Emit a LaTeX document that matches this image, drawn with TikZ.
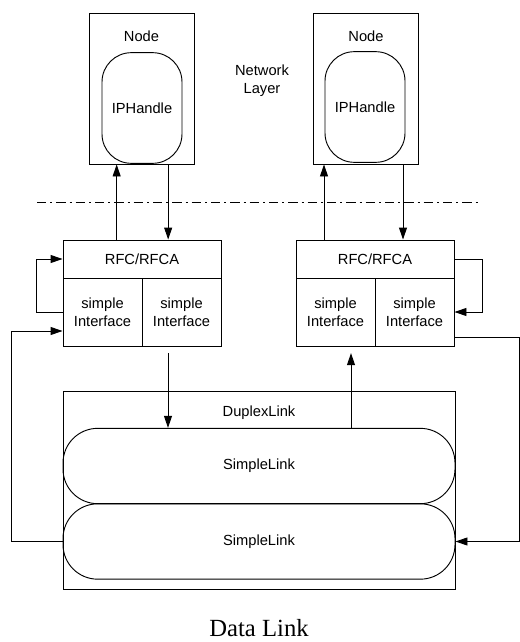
\documentclass[tikz,border=0pt]{standalone}
\usepackage{fontspec}
\setmainfont{Liberation Sans}
\newfontfamily\capfont{Liberation Serif}
\usetikzlibrary{calc}
\usetikzlibrary{arrows.meta}

\tikzset{
  every node/.style={font=\fontsize{11}{13.5}\selectfont},
  hostbox/.style={draw, minimum width=78.75pt, minimum height=113.25pt},
  handle/.style={draw, rounded corners=22pt, minimum width=60pt, minimum height=83pt, inner sep=0pt},
  rfcbox/.style={draw, minimum width=118.5pt, minimum height=28.5pt, inner sep=0pt},
  ifbox/.style={draw, minimum width=59.25pt, minimum height=51pt, inner sep=0pt, align=center},
  linkbox/.style={draw, rounded corners=26pt, minimum width=294pt, minimum height=56.5pt, inner sep=0pt},
  flow/.style={line width=.7pt, -{Triangle[length=9pt,width=6pt]}}
}

\begin{document}
\begin{tikzpicture}[x=.75pt, y=-.75pt, line width=.7pt]
\useasboundingbox (0,0) rectangle (520,642);

% network layer
\node[hostbox] (hostL) at (141.5,88.5) {};
\node[hostbox] (hostR) at (366,88.5) {};
\node (hostLlbl) at (141.5,36) {Node};
\node (hostRlbl) at (366,36) {Node};
\node[handle] (ipL) at (142,108) {IPHandle};
\node[handle] (ipR) at (365,107) {IPHandle};
\node[align=center] (netlbl) at (262,81) {Network\\Layer};

\draw[dash pattern=on 7pt off 3pt on 1.5pt off 3pt] (37,202) -- (480,202);

% RFC/RFCA blocks
\node[rfcbox] (rfcL) at (142,259) {RFC/RFCA};
\node[ifbox] (ifL1) at (102.5,312) {simple\\Interface};
\node[ifbox] (ifL2) at (181.5,312) {simple\\Interface};
\node[rfcbox] (rfcR) at (375,259) {RFC/RFCA};
\node[ifbox] (ifR1) at (335.5,312) {simple\\Interface};
\node[ifbox] (ifR2) at (414.5,312) {simple\\Interface};

% data link
\node[draw, minimum width=294pt, minimum height=148.5pt] (duplex) at (259,490) {};
\node (duplexlbl) at (259,413) {DuplexLink};
\node[linkbox] (slA) at (259,466) {SimpleLink};
\node[linkbox] (slB) at (259,541.5) {SimpleLink};
\node[inner sep=1pt] (caption) at (259,628) {\capfont\fontsize{18.5}{20}\selectfont Data Link};

\coordinate (dnL) at (168,0);
\coordinate (upR) at (351,0);

% up and down between layers
\draw[flow] ([xshift=-19pt]rfcL.north) -- ([xshift=-19pt]rfcL.north |- hostL.south);
\draw[flow] ([xshift=20pt]hostL.south) -- ([xshift=20pt]hostL.south |- rfcL.north);
\draw[flow] ([xshift=-31.5pt]hostR.south |- rfcR.north) -- ([xshift=-31.5pt]hostR.south);
\draw[flow] ([xshift=27.75pt]hostR.south) -- ([xshift=27.75pt]hostR.south |- rfcR.north);

% loops
\draw[flow] (ifL1.west) -- ++(-26,0) |- (rfcL.west);
\draw[flow] (rfcR.east) -- ++(28,0) |- (ifR2.east);
\draw[flow] (slB.west) -- ++(-51,0) |- ([yshift=-14.25pt]ifL1.west);
\draw[flow] ([yshift=-18.75pt]ifR2.east) -- ++(65,0) |- (slB.east);

% into and out of the links
\draw[flow, shorten <=5pt] (ifL2.south -| dnL) -- (slA.north -| dnL);
\draw[flow, shorten >=5pt] (slA.north -| upR) -- (ifR1.south -| upR);
\end{tikzpicture}
\end{document}
